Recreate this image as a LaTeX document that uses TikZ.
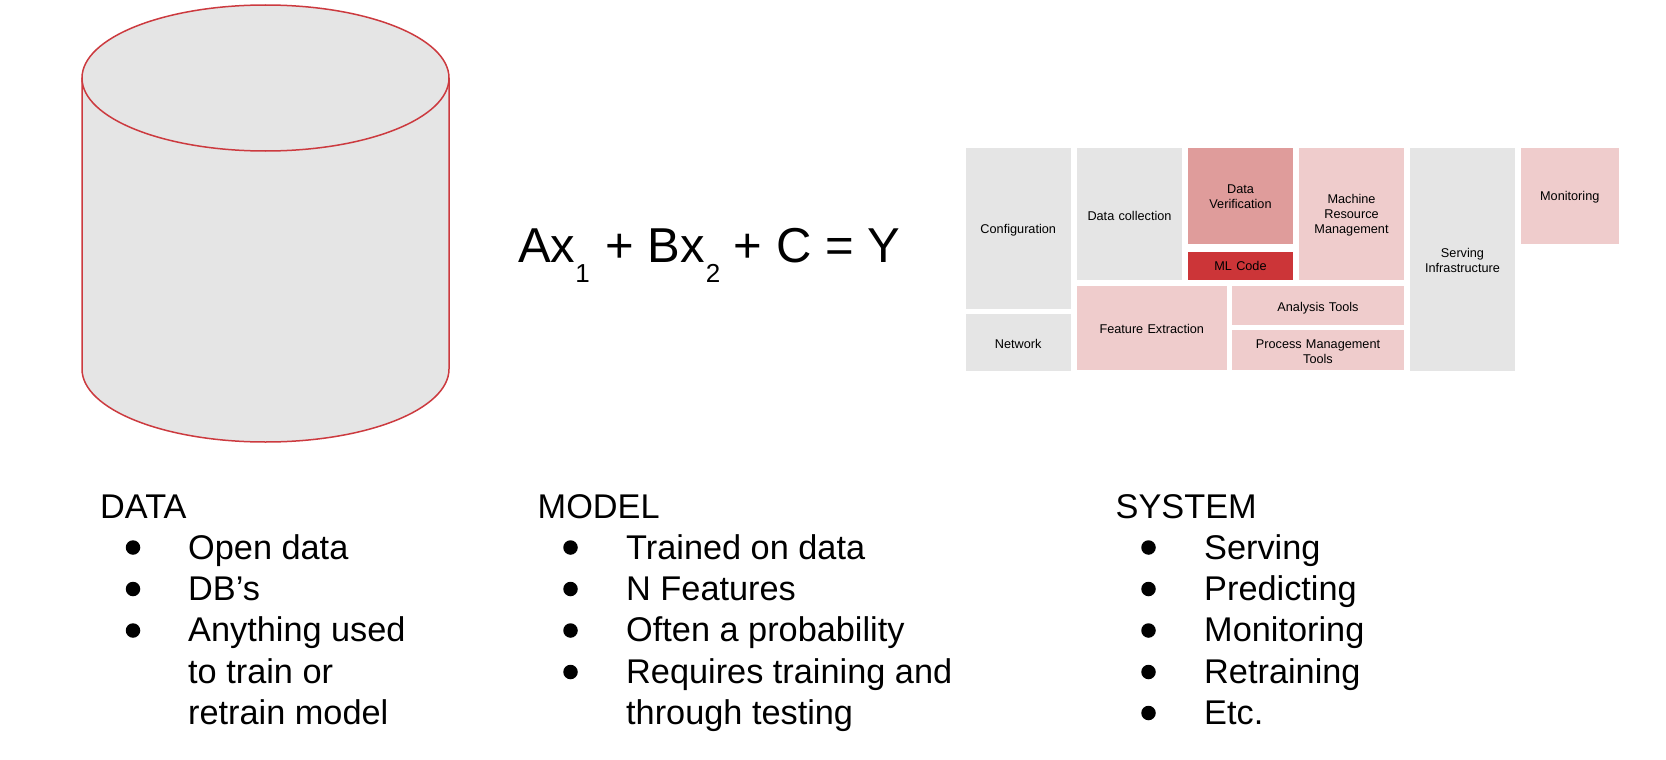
\documentclass[tikz,border=0pt]{standalone}
\usepackage{fontspec}
\setmainfont{Liberation Sans}
\definecolor{cellgrey}{HTML}{E5E5E5}
\definecolor{cellpale}{HTML}{EFCCCC}
\definecolor{cellmid}{HTML}{DF9C9B}
\definecolor{cellred}{HTML}{CC3538}
\definecolor{cylline}{HTML}{CC3A3F}
\tikzset{
  cell/.style={draw=none,inner sep=0pt,align=center,text=black,font=\fontsize{12.7}{15}\selectfont},
  listline/.style={anchor=base west,inner sep=0pt,text=black,font=\fontsize{34.3}{41}\selectfont},
  bulletdot/.style={circle,fill=black,inner sep=0pt,minimum size=14.5pt},
  cylface/.style={fill=cellgrey,draw=cylline,line width=1.5pt},
  eqn/.style={anchor=base west,inner sep=0pt,text=black,font=\fontsize{49}{50}\selectfont}
}
\newcommand{\cellbox}[8][0]{%
  \fill[#7] (#2,#3) rectangle (#4,#5);
  \node[cell,text width=#4pt-#2pt-4pt] (#6) at ({(#2+#4)/2},{(#3+#5)/2+1.5+#1}) {#8};}
\newcommand{\subdigit}[1]{\raisebox{-20pt}{\fontsize{26}{28}\selectfont #1}}
\begin{document}
\begin{tikzpicture}[x=1pt,y=-1pt]
\useasboundingbox (0,0) rectangle (1666,760);
% cylinder
\path[cylface] (82,78) -- (82,369) arc[start angle=180,end angle=0,x radius=183.5,y radius=73] -- (449,78);
\path[cylface] (265.5,78) ellipse[x radius=183.5,y radius=73];
% equation
\node[eqn] (eq) at (518,262) {Ax\subdigit{1}\hspace{2pt} + Bx\hspace{1pt}\subdigit{2} + C = Y};
% system cells
\cellbox{965.5}{148}{1071}{309}{config}{cellgrey}{Configuration}
\cellbox{965.5}{314}{1071}{371}{network}{cellgrey}{Network}
\cellbox{1077}{148}{1182}{280}{collect}{cellgrey}{Data collection}
\cellbox[-1]{1188}{148}{1293}{244}{verify}{cellmid}{Data\\Verification}
\cellbox[-2]{1188}{252}{1293}{280}{mlcode}{cellred}{ML Code}
\cellbox{1299}{148}{1404}{280}{machine}{cellpale}{Machine\\Resource\\Management}
\cellbox[-1]{1077}{286}{1226.5}{370}{feature}{cellpale}{Feature Extraction}
\cellbox[1]{1232}{286}{1404}{325}{analysis}{cellpale}{Analysis Tools}
\cellbox{1232}{330}{1404}{370}{process}{cellpale}{Process Management\\Tools}
\cellbox[-1]{1410}{148}{1515}{371}{serving}{cellgrey}{Serving\\Infrastructure}
\cellbox{1521}{148}{1618.5}{244}{monitor}{cellpale}{Monitoring}
% DATA
\node[listline] (dh) at (100,518) {DATA};
\node[bulletdot] (d1b) at (133,547.5) {}; \node[listline] (d1) at (188,559) {Open data};
\node[bulletdot] (d2b) at (133,589) {}; \node[listline] (d2) at (188,600) {DB’s};
\node[bulletdot] (d3b) at (133,630.5) {}; \node[listline] (d3) at (188,641.5) {Anything used};
\node[listline] (d3x) at (188,683) {to train or};
\node[listline] (d3y) at (188,724) {retrain model};
% MODEL
\node[listline] (mh) at (537.5,518) {MODEL};
\node[bulletdot] (m1b) at (570.5,547.5) {}; \node[listline] (m1) at (626,559) {Trained on data};
\node[bulletdot] (m2b) at (570.5,589) {}; \node[listline] (m2) at (626,600) {N Features};
\node[bulletdot] (m3b) at (570.5,630.5) {}; \node[listline] (m3) at (626,641.5) {Often a probability};
\node[bulletdot] (m4b) at (570.5,672) {}; \node[listline] (m4) at (626,683) {Requires training and};
\node[listline] (m4x) at (626,724) {through testing};
% SYSTEM
\node[listline] (sh) at (1115.5,518) {SYSTEM};
\node[bulletdot] (s1b) at (1148.5,547.5) {}; \node[listline] (s1) at (1204,559) {Serving};
\node[bulletdot] (s2b) at (1148.5,589) {}; \node[listline] (s2) at (1204,600) {Predicting};
\node[bulletdot] (s3b) at (1148.5,630.5) {}; \node[listline] (s3) at (1204,641.5) {Monitoring};
\node[bulletdot] (s4b) at (1148.5,672) {}; \node[listline] (s4) at (1204,683) {Retraining};
\node[bulletdot] (s5b) at (1148.5,713) {}; \node[listline] (s5) at (1204,724) {Etc.};
\end{tikzpicture}
\end{document}
